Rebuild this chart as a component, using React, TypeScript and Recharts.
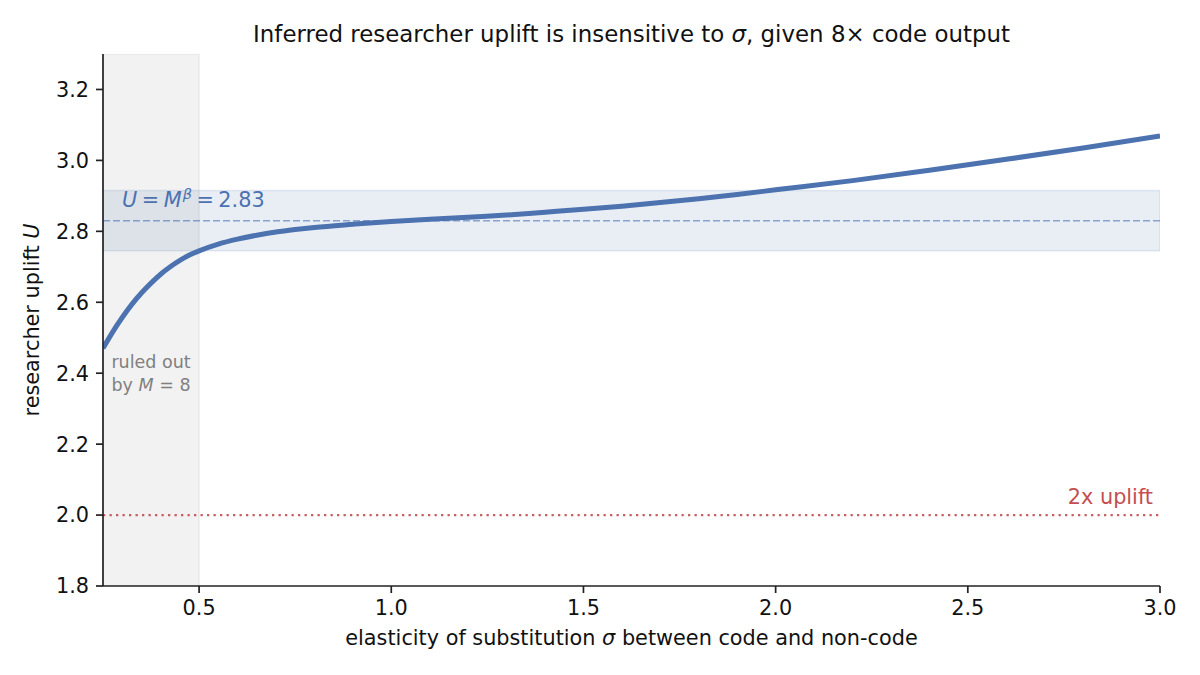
import React from 'react';
import {
  LineChart,
  Line,
  XAxis,
  YAxis,
  ReferenceArea,
  ReferenceLine,
  ReferenceDot,
  Customized,
} from 'recharts';

// ---- data ----
const sigmaValues = [
  0.25, 0.275, 0.3, 0.325, 0.35, 0.375, 0.4, 0.425, 0.45, 0.475, 0.5, 0.55, 0.6, 0.65,
  0.7, 0.75, 0.8, 0.9, 1.0, 1.1, 1.2, 1.3, 1.4, 1.5, 1.6, 1.7, 1.8, 1.9, 2.0, 2.2, 2.4,
  2.6, 2.8, 3.0,
];
const upliftValues = [
  2.47, 2.516, 2.557, 2.594, 2.626, 2.654, 2.679, 2.7, 2.718, 2.733, 2.745, 2.764,
  2.778, 2.789, 2.798, 2.805, 2.811, 2.82, 2.828, 2.834, 2.84, 2.846, 2.854, 2.862,
  2.871, 2.881, 2.892, 2.904, 2.917, 2.943, 2.972, 3.003, 3.035, 3.069,
];
const xTicks = [0.5, 1.0, 1.5, 2.0, 2.5, 3.0];
const yTicks = [1.8, 2.0, 2.2, 2.4, 2.6, 2.8, 3.0, 3.2];
const xDomain = [0.25, 3.0];
const yDomain = [1.8, 3.3];
const targetUplift = 2.83;
const bandLow = 2.745;
const bandHigh = 2.915;
const ruledOutMax = 0.5;
const twoXUplift = 2.0;
const ruledOutLabelPos = { x: 0.375, y: 2.4 };

const data = sigmaValues.map((s, i) => ({ sigma: s, U: upliftValues[i] }));

const FONT = 'DejaVu Sans';
const BLUE = '#4c72b0';
const RED = '#c44e52';

const W = 1200;
const H = 675;
const margin = { top: 54, right: 40, bottom: 39, left: 43 };
const Y_AXIS_W = 60;
const X_AXIS_H = 50;
const plotLeft = margin.left + Y_AXIS_W;
const plotRight = W - margin.right;
const plotTop = margin.top;
const plotBottom = H - margin.bottom - X_AXIS_H;

const Texts = () => (
  <g fontFamily={FONT}>
    <text
      x={(plotLeft + plotRight) / 2}
      y={42}
      textAnchor="middle"
      fontSize={22.9}
      fill="#111"
    >
      Inferred researcher uplift is insensitive to{' '}
      <tspan fontStyle="italic">σ</tspan>, given 8× code output
    </text>
    <text
      x={(plotLeft + plotRight) / 2}
      y={645}
      textAnchor="middle"
      fontSize={20.8}
      fill="#111"
    >
      elasticity of substitution <tspan fontStyle="italic">σ</tspan> between code and
      non-code
    </text>
    <text
      x={39}
      y={(plotTop + plotBottom) / 2}
      textAnchor="middle"
      fontSize={20.8}
      fill="#111"
      transform={`rotate(-90, 39, ${(plotTop + plotBottom) / 2})`}
    >
      researcher uplift <tspan fontStyle="italic">U</tspan>
    </text>
  </g>
);

const TwoXLabel = (props: any) => {
  const vb = props.viewBox || {};
  return (
    <text
      x={vb.x + vb.width - 7}
      y={vb.y - 11}
      textAnchor="end"
      fontSize={20.8}
      fontFamily={FONT}
      fill={RED}
    >
      2x uplift
    </text>
  );
};

const TargetLabel = (props: any) => {
  const vb = props.viewBox || {};
  return (
    <text x={vb.x + 19} y={vb.y - 14} fontSize={20.8} fontFamily={FONT} fill={BLUE}>
      <tspan fontStyle="italic">U</tspan>
      <tspan dx={4.5}>=</tspan>
      <tspan dx={4.5} fontStyle="italic">M</tspan>
      <tspan fontStyle="italic" fontSize={14.5} dy={-8} dx={1}>
        β
      </tspan>
      <tspan dy={8} dx={4.5}>=</tspan>
      <tspan dx={4.5}>2.83</tspan>
    </text>
  );
};

const RuledOutLabel = (props: any) => {
  const vb = props.viewBox || {};
  const cx = vb.x + (vb.width || 0) / 2;
  const cy = vb.y + (vb.height || 0) / 2;
  return (
    <text textAnchor="middle" fontSize={17.5} fontFamily={FONT} fill="#808080">
      <tspan x={cx} y={cy - 5}>
        ruled out
      </tspan>
      <tspan x={cx} y={cy + 18}>
        by <tspan fontStyle="italic">M</tspan> = 8
      </tspan>
    </text>
  );
};

export default function App() {
  return (
    <div style={{ position: 'absolute', left: 0, top: 0, width: W, height: H, background: '#fff' }}>
      <LineChart width={W} height={H} data={data} margin={margin}>
        <ReferenceArea
          x1={xDomain[0]}
          x2={ruledOutMax}
          fill="#808080"
          fillOpacity={0.1}
          stroke="#808080"
          strokeOpacity={0.12}
          strokeWidth={1.5}
          ifOverflow="hidden"
        />
        <ReferenceArea
          y1={bandLow}
          y2={bandHigh}
          fill={BLUE}
          fillOpacity={0.12}
          stroke={BLUE}
          strokeOpacity={0.14}
          strokeWidth={1.5}
          ifOverflow="hidden"
        />
        <ReferenceLine
          y={targetUplift}
          stroke={BLUE}
          strokeOpacity={0.6}
          strokeWidth={1.6}
          strokeDasharray="7 3"
          label={TargetLabel}
        />
        <ReferenceLine
          y={twoXUplift}
          stroke={RED}
          strokeOpacity={0.9}
          strokeWidth={2.3}
          strokeDasharray="2.3 4.2"
          label={TwoXLabel}
        />
        <ReferenceDot
          x={ruledOutLabelPos.x}
          y={ruledOutLabelPos.y}
          r={0}
          fill="none"
          stroke="none"
          label={RuledOutLabel}
        />
        <XAxis
          dataKey="sigma"
          type="number"
          domain={xDomain}
          ticks={xTicks}
          allowDataOverflow
          height={X_AXIS_H}
          tickFormatter={(v: number) => v.toFixed(1)}
          tick={{ fontSize: 20.8, fontFamily: FONT, fill: '#111' }}
          tickSize={7}
          tickMargin={7}
          axisLine={{ stroke: '#222', strokeWidth: 1.7 }}
          tickLine={{ stroke: '#222', strokeWidth: 1.7 }}
        />
        <YAxis
          type="number"
          domain={yDomain}
          ticks={yTicks}
          allowDataOverflow
          width={Y_AXIS_W}
          tickFormatter={(v: number) => v.toFixed(1)}
          tick={{ fontSize: 20.8, fontFamily: FONT, fill: '#111' }}
          tickSize={7}
          tickMargin={7}
          axisLine={{ stroke: '#222', strokeWidth: 1.7 }}
          tickLine={{ stroke: '#222', strokeWidth: 1.7 }}
        />
        <Line
          type="monotone"
          dataKey="U"
          stroke={BLUE}
          strokeWidth={5}
          dot={false}
          activeDot={false}
          isAnimationActive={false}
        />
        <Customized component={Texts} />
      </LineChart>
    </div>
  );
}
